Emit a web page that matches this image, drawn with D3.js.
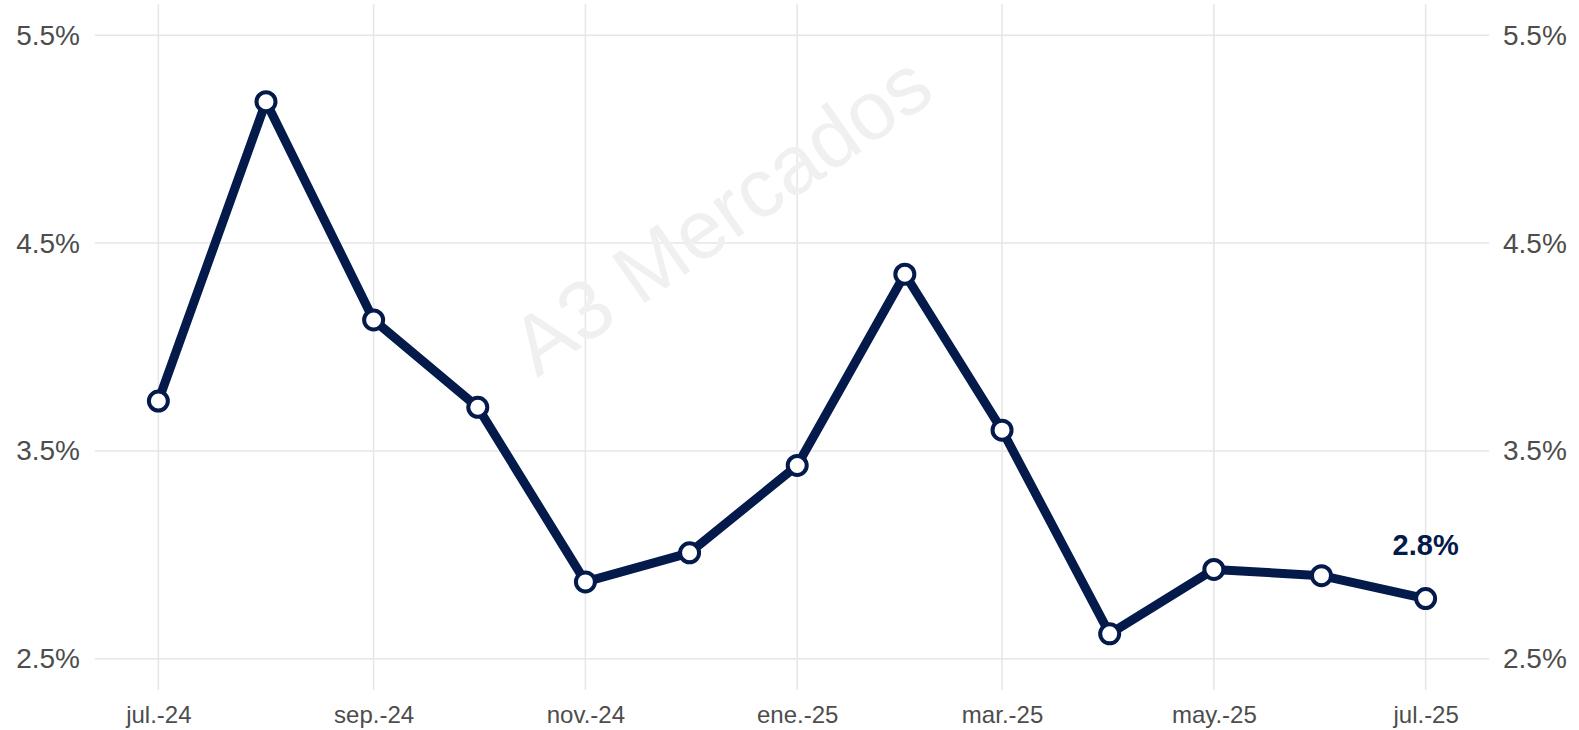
<!DOCTYPE html>
<html>
<head>
<meta charset="utf-8">
<script src="https://cdn.jsdelivr.net/npm/d3@7"></script>
<style>
  html, body { margin: 0; padding: 0; background: #fff; }
  svg { display: block; font-family: "Liberation Sans", Arial, sans-serif; }
</style>
</head>
<body>
<div id="chart"></div>
<script>
// Monthly values (%)
const months = ["2024-07", "2024-08", "2024-09", "2024-10", "2024-11", "2024-12",
    "2025-01", "2025-02", "2025-03", "2025-04", "2025-05", "2025-06", "2025-07"];
const values = [3.74, 5.18, 4.13, 3.71, 2.87, 3.01, 3.43, 4.35, 3.60, 2.62, 2.93, 2.90, 2.79];

const xTicks = ["2024-07", "2024-09", "2024-11", "2025-01", "2025-03", "2025-05", "2025-07"];
const xTickLabels = ["jul.-24", "sep.-24", "nov.-24", "ene.-25", "mar.-25", "may.-25", "jul.-25"];
const yTicks = [2.5, 3.5, 4.5, 5.5];
const lastLabel = "2.8%";

const width = 1579, height = 730;
const parse = d3.utcParse("%Y-%m");
const data = months.map((m, i) => ({ date: parse(m), value: values[i] }));

// Plot panel (ggplot-style expansion of 5%)
const panel = { left: 95, right: 1489, top: 4, bottom: 690 };

const first = data[0].date, last = data[data.length - 1].date;
const span = last - first;
const x = d3.scaleUtc()
    .domain([new Date(+first - span * 0.05), new Date(+last + span * 0.05)])
    .range([panel.left, panel.right]);

const yRange = 5.5 - 2.5;
const y = d3.scaleLinear()
    .domain([2.5 - yRange * 0.05, 5.5 + yRange * 0.05])
    .range([panel.bottom, panel.top]);

const svg = d3.select("#chart").append("svg")
    .attr("width", width)
    .attr("height", height);

const gridColor = "#e6e6e6";
const navy = "#031a4a";
const textGrey = "#4d4d4d";

// Gridlines
svg.append("g").selectAll("line")
    .data(yTicks)
    .join("line")
    .attr("x1", panel.left).attr("x2", panel.right)
    .attr("y1", d => y(d)).attr("y2", d => y(d))
    .attr("stroke", gridColor).attr("stroke-width", 1.5);

svg.append("g").selectAll("line")
    .data(xTicks.map(parse))
    .join("line")
    .attr("x1", d => x(d)).attr("x2", d => x(d))
    .attr("y1", panel.top).attr("y2", panel.bottom)
    .attr("stroke", gridColor).attr("stroke-width", 1.5);

// Watermark
svg.append("text")
    .attr("transform", "translate(725,220) rotate(-35)")
    .attr("text-anchor", "middle")
    .attr("dominant-baseline", "middle")
    .style("font-size", "83px")
    .style("fill", "#f0f0f0")
    .text("A3 Mercados");

// Axes
const fmtY = d => d.toFixed(1) + "%";

const yLeft = svg.append("g")
    .attr("transform", `translate(${panel.left - 15},0)`)
    .call(d3.axisLeft(y).tickValues(yTicks).tickFormat(fmtY).tickSize(0).tickPadding(0));

const yRight = svg.append("g")
    .attr("transform", `translate(${panel.right + 14},0)`)
    .call(d3.axisRight(y).tickValues(yTicks).tickFormat(fmtY).tickSize(0).tickPadding(0));

const xAxis = svg.append("g")
    .attr("transform", `translate(0,${panel.bottom + 12})`)
    .call(d3.axisBottom(x).tickValues(xTicks.map(parse))
        .tickFormat((d, i) => xTickLabels[i]).tickSize(0).tickPadding(4));

[yLeft, yRight, xAxis].forEach(g => {
    g.select(".domain").remove();
    g.selectAll("text")
        .style("font-family", "'Liberation Sans', Arial, sans-serif")
        .style("fill", textGrey);
});
yLeft.selectAll("text").style("font-size", "28px");
yRight.selectAll("text").style("font-size", "28px");
xAxis.selectAll("text").style("font-size", "24px");

// Line
const line = d3.line()
    .x(d => x(d.date))
    .y(d => y(d.value));

svg.append("path")
    .datum(data)
    .attr("fill", "none")
    .attr("stroke", navy)
    .attr("stroke-width", 9)
    .attr("stroke-linejoin", "round")
    .attr("d", line);

svg.append("g").selectAll("circle")
    .data(data)
    .join("circle")
    .attr("cx", d => x(d.date))
    .attr("cy", d => y(d.value))
    .attr("r", 9.5)
    .attr("fill", "#fff")
    .attr("stroke", navy)
    .attr("stroke-width", 4);

// Last value label
const lastPt = data[data.length - 1];
svg.append("text")
    .attr("x", x(lastPt.date))
    .attr("y", y(lastPt.value) - 44)
    .attr("text-anchor", "middle")
    .style("font-size", "29px")
    .style("font-weight", "bold")
    .style("fill", navy)
    .text(lastLabel);
</script>
</body>
</html>
